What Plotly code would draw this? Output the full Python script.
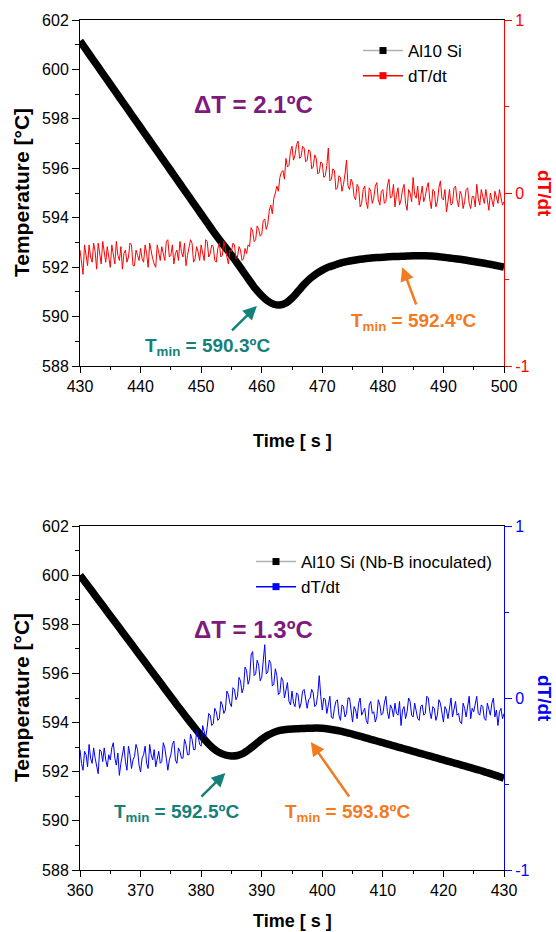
import plotly.graph_objects as go

# ---------------- data ----------------
# Top panel: Al10 Si
top_time_T = list(range(430, 501))
top_temp = [
    601.15, 600.80, 600.45, 600.10, 599.75, 599.40, 599.05, 598.70, 598.35, 598.00,
    597.65, 597.30, 596.95, 596.60, 596.25, 595.90, 595.55, 595.20, 594.85, 594.50,
    594.15, 593.80, 593.45, 593.12, 592.80, 592.48, 592.15, 591.80, 591.45, 591.12,
    590.85, 590.63, 590.50, 590.47, 590.55, 590.75, 591.02, 591.30, 591.54, 591.73,
    591.88, 592.00, 592.08, 592.16, 592.22, 592.27, 592.31, 592.34, 592.37, 592.39,
    592.40, 592.42, 592.43, 592.44, 592.45, 592.46, 592.46, 592.46, 592.45, 592.43,
    592.40, 592.37, 592.34, 592.31, 592.27, 592.23, 592.19, 592.15, 592.10, 592.05,
    592.00,
]
top_dtdt_start = 430.0
top_dtdt_step = 0.25
top_dtdt = [
    -0.33, -0.41, -0.47, -0.30, -0.35, -0.42, -0.30, -0.37, -0.40, -0.29,
    -0.34, -0.44, -0.29, -0.36, -0.41, -0.28, -0.36, -0.40, -0.31, -0.38,
    -0.43, -0.30, -0.35, -0.41, -0.28, -0.36, -0.39, -0.31, -0.44, -0.35,
    -0.33, -0.40, -0.37, -0.29, -0.30, -0.42, -0.42, -0.33, -0.36, -0.39,
    -0.32, -0.38, -0.40, -0.30, -0.35, -0.43, -0.29, -0.34, -0.38, -0.41,
    -0.43, -0.30, -0.34, -0.39, -0.31, -0.36, -0.39, -0.28, -0.27, -0.37,
    -0.36, -0.30, -0.41, -0.35, -0.33, -0.39, -0.28, -0.34, -0.37, -0.29,
    -0.42, -0.36, -0.32, -0.27, -0.29, -0.40, -0.38, -0.31, -0.34, -0.39,
    -0.30, -0.36, -0.39, -0.27, -0.28, -0.37, -0.35, -0.30, -0.31, -0.39,
    -0.40, -0.32, -0.29, -0.37, -0.36, -0.28, -0.32, -0.38, -0.41, -0.33,
    -0.34, -0.29, -0.30, -0.38, -0.37, -0.31, -0.33, -0.39, -0.38, -0.32,
    -0.35, -0.30, -0.31, -0.20, -0.22, -0.28, -0.27, -0.19, -0.21, -0.25,
    -0.24, -0.16, -0.15, -0.21, -0.18, -0.10, -0.07, -0.12, -0.03, 0.00,
    0.04, 0.01, 0.09, 0.12, 0.13, 0.08, 0.20, 0.15, 0.16, 0.24,
    0.27, 0.19, 0.22, 0.28, 0.30, 0.20, 0.21, 0.27, 0.26, 0.18,
    0.19, 0.25, 0.24, 0.14, 0.15, 0.22, 0.20, 0.11, 0.12, 0.18,
    0.17, 0.09, 0.10, 0.16, 0.26, 0.07, 0.08, 0.14, 0.13, 0.02,
    0.03, 0.10, 0.09, 0.01, 0.05, 0.11, 0.19, 0.04, 0.02, 0.08,
    0.06, -0.02, -0.04, 0.05, 0.03, -0.08, -0.06, 0.02, 0.04, -0.05,
    -0.09, 0.03, 0.01, -0.06, -0.03, 0.04, 0.06, -0.04, -0.07, 0.01,
    0.02, -0.06, -0.05, 0.04, 0.08, -0.03, -0.02, 0.05, -0.08, -0.01,
    0.03, -0.07, -0.04, 0.02, 0.05, -0.06, -0.10, 0.02, 0.00, -0.05,
    0.09, -0.01, -0.03, 0.04, -0.07, -0.02, 0.04, -0.05, -0.02, 0.03,
    0.06, -0.04, -0.09, 0.02, 0.01, -0.08, -0.05, 0.03, 0.07, -0.03,
    -0.04, 0.02, -0.11, -0.05, 0.02, -0.07, -0.06, 0.03, 0.04, -0.04,
    -0.08, 0.01, -0.01, -0.09, -0.05, 0.02, 0.03, -0.06, -0.09, -0.02,
    -0.02, -0.08, 0.05, -0.03, -0.07, 0.02, -0.03, -0.06, 0.02, -0.04,
    -0.10, 0.00, -0.04, -0.08, 0.01, -0.03, -0.06, 0.02, -0.02, -0.07,
    -0.05,
]

# Bottom panel: Al10 Si (Nb-B inoculated)
bot_time_T = list(range(360, 431))
bot_temp = [
    600.00, 599.67, 599.34, 599.01, 598.68, 598.35, 598.02, 597.69, 597.36, 597.03,
    596.70, 596.37, 596.04, 595.71, 595.38, 595.05, 594.72, 594.40, 594.08, 593.77,
    593.47, 593.19, 592.95, 592.78, 592.68, 592.64, 592.66, 592.75, 592.92, 593.12,
    593.32, 593.48, 593.60, 593.68, 593.72, 593.74, 593.75, 593.76, 593.77, 593.78,
    593.77, 593.74, 593.70, 593.65, 593.59, 593.53, 593.46, 593.39, 593.32, 593.25,
    593.18, 593.11, 593.04, 592.97, 592.90, 592.83, 592.76, 592.69, 592.62, 592.55,
    592.48, 592.41, 592.34, 592.27, 592.20, 592.13, 592.06, 591.98, 591.90, 591.82,
    591.74,
]
bot_dtdt_start = 360.0
bot_dtdt_step = 0.25
bot_dtdt = [
    -0.30, -0.38, -0.42, -0.31, -0.33, -0.40, -0.27, -0.35, -0.38, -0.29,
    -0.35, -0.41, -0.44, -0.30, -0.31, -0.37, -0.29, -0.36, -0.40, -0.33,
    -0.36, -0.29, -0.26, -0.35, -0.39, -0.32, -0.45, -0.38, -0.32, -0.28,
    -0.37, -0.42, -0.28, -0.33, -0.41, -0.36, -0.34, -0.27, -0.30, -0.39,
    -0.43, -0.35, -0.33, -0.28, -0.38, -0.41, -0.27, -0.33, -0.36, -0.30,
    -0.40, -0.34, -0.31, -0.38, -0.37, -0.26, -0.29, -0.35, -0.42, -0.36,
    -0.33, -0.27, -0.25, -0.36, -0.38, -0.29, -0.31, -0.35, -0.35, -0.24,
    -0.27, -0.33, -0.33, -0.21, -0.24, -0.30, -0.30, -0.19, -0.22, -0.27,
    -0.28, -0.16, -0.19, -0.23, -0.17, -0.09, -0.10, -0.16, -0.15, -0.06,
    -0.08, -0.13, -0.12, -0.02, -0.04, -0.09, -0.07, 0.04, 0.02, -0.03,
    -0.05, 0.06, 0.05, -0.01, 0.01, 0.12, 0.10, 0.03, 0.06, 0.18,
    0.16, 0.08, 0.11, 0.25, 0.27, 0.13, 0.14, 0.22, 0.19, 0.10,
    0.12, 0.24, 0.31, 0.14, 0.15, 0.22, 0.20, 0.07, 0.08, 0.17,
    0.13, 0.02, 0.03, 0.12, 0.10, 0.00, 0.05, 0.09, -0.02, -0.04,
    0.04, -0.03, -0.05, 0.03, 0.02, -0.06, -0.03, 0.04, 0.05, -0.02,
    -0.06, -0.01, 0.00, 0.05, 0.03, -0.05, -0.04, 0.02, 0.13, 0.01,
    -0.07, 0.00, -0.01, -0.09, -0.04, 0.01, -0.11, -0.12, -0.06, -0.02,
    -0.01, -0.10, -0.13, -0.04, -0.05, -0.11, -0.09, 0.00, 0.00, -0.08,
    -0.14, -0.05, -0.07, -0.12, -0.03, 0.00, -0.10, -0.08, -0.06, -0.13,
    -0.15, -0.04, -0.02, -0.09, -0.08, -0.14, -0.11, -0.01, -0.04, -0.10,
    -0.09, -0.03, 0.01, -0.08, -0.12, -0.04, -0.06, -0.11, -0.03, -0.09,
    -0.10, -0.02, -0.16, -0.07, -0.05, -0.12, -0.08, 0.00, -0.02, -0.10,
    -0.11, -0.03, -0.07, -0.12, -0.13, -0.05, -0.04, -0.10, -0.09, 0.01,
    0.00, -0.08, -0.12, -0.05, -0.06, -0.13, -0.10, -0.01, -0.03, -0.09,
    -0.14, -0.05, -0.07, -0.12, -0.05, 0.00, -0.11, -0.07, -0.02, -0.10,
    -0.09, -0.14, -0.15, -0.03, -0.06, -0.11, -0.04, 0.01, -0.12, -0.06,
    -0.08, -0.02, 0.01, -0.09, -0.10, -0.04, -0.05, -0.12, -0.13, -0.03,
    -0.07, -0.10, -0.03, 0.00, -0.11, -0.07, -0.16, -0.08, -0.06, -0.12,
    -0.09,
]

top_time_d = [top_dtdt_start + top_dtdt_step * i for i in range(len(top_dtdt))]
bot_time_d = [bot_dtdt_start + bot_dtdt_step * i for i in range(len(bot_dtdt))]

top_names = ["Al10 Si", "dT/dt"]
bot_names = ["Al10 Si (Nb-B inoculated)", "dT/dt"]

# ---------------- style ----------------
FONT = "Arial, 'Liberation Sans', sans-serif"
W, H = 556, 932
TEAL = "#14807a"
ORANGE = "#f47a1f"
PURPLE = "#7e1a7e"
RED = "#ff0000"
BLUE = "#0000ff"

def px_x(p):
    return p / W

def px_y(p):
    return 1 - p / H

xdom = [px_x(80), px_x(504)]
top_dom = [px_y(366), px_y(20)]
bot_dom = [px_y(870), px_y(526)]

fig = go.Figure()

# top panel traces
fig.add_trace(go.Scatter(x=top_time_d, y=top_dtdt, mode="lines",
                         line=dict(color=RED, width=1), xaxis="x", yaxis="y2",
                         showlegend=False, hoverinfo="skip"))
fig.add_trace(go.Scatter(x=top_time_T, y=top_temp, mode="lines",
                         line=dict(color="black", width=7.5, shape="spline", smoothing=0.6),
                         xaxis="x", yaxis="y", showlegend=False))
fig.add_trace(go.Scatter(x=[None], y=[None], mode="lines+markers", name=top_names[0],
                         line=dict(color="#b0b0b0", width=1.5),
                         marker=dict(color="black", symbol="square", size=7),
                         xaxis="x", yaxis="y", legend="legend"))
fig.add_trace(go.Scatter(x=[None], y=[None], mode="lines+markers", name=top_names[1],
                         line=dict(color=RED, width=1.5),
                         marker=dict(color=RED, symbol="square", size=7),
                         xaxis="x", yaxis="y2", legend="legend"))

# bottom panel traces
fig.add_trace(go.Scatter(x=bot_time_d, y=bot_dtdt, mode="lines",
                         line=dict(color=BLUE, width=1), xaxis="x2", yaxis="y4",
                         showlegend=False, hoverinfo="skip"))
fig.add_trace(go.Scatter(x=bot_time_T, y=bot_temp, mode="lines",
                         line=dict(color="black", width=7.5, shape="spline", smoothing=0.6),
                         xaxis="x2", yaxis="y3", showlegend=False))
fig.add_trace(go.Scatter(x=[None], y=[None], mode="lines+markers", name=bot_names[0],
                         line=dict(color="#b0b0b0", width=1.5),
                         marker=dict(color="black", symbol="square", size=7),
                         xaxis="x2", yaxis="y3", legend="legend2"))
fig.add_trace(go.Scatter(x=[None], y=[None], mode="lines+markers", name=bot_names[1],
                         line=dict(color=BLUE, width=1.5),
                         marker=dict(color=BLUE, symbol="square", size=7),
                         xaxis="x2", yaxis="y4", legend="legend2"))

def xaxis_cfg(rng, anchor, ticks_vals):
    return dict(domain=xdom, range=rng, anchor=anchor, showgrid=False, zeroline=False,
                automargin=False,
                showline=True, linecolor="black", linewidth=1, mirror=True,
                ticks="outside", ticklen=6, tickwidth=1, tickcolor="black",
                tickvals=ticks_vals,
                minor=dict(dtick=5, ticks="outside", ticklen=3, tickcolor="black", showgrid=False),
                tickfont=dict(family=FONT, size=16, color="black"))

def ytemp_cfg(dom, anchor):
    return dict(domain=dom, range=[588, 602], anchor=anchor, showgrid=False, zeroline=False,
                automargin=False,
                showline=True, linecolor="black", linewidth=1,
                ticks="outside", ticklen=7, tickwidth=1, tickcolor="black",
                tick0=588, dtick=2,
                minor=dict(dtick=1, ticks="outside", ticklen=4, tickcolor="black", showgrid=False),
                tickfont=dict(family=FONT, size=16, color="black"))

def yd_cfg(overlay, anchor, color):
    return dict(overlaying=overlay, anchor=anchor, side="right", range=[-1, 1],
                automargin=False,
                showgrid=False, zeroline=False, showline=True, linecolor=color, linewidth=1,
                ticks="outside", ticklen=7, tickwidth=1, tickcolor=color,
                tickvals=[-1, 0, 1], ticktext=["-1", "0", "1"],
                minor=dict(dtick=0.5, ticks="outside", ticklen=4, tickcolor=color, showgrid=False),
                tickfont=dict(family=FONT, size=16, color=color))

top_ticks = list(range(430, 501, 10))
bot_ticks = list(range(360, 431, 10))

fig.update_layout(
    width=W, height=H,
    autosize=False,
    margin=dict(l=0, r=0, t=0, b=0, pad=0, autoexpand=False),
    paper_bgcolor="white", plot_bgcolor="white",
    font=dict(family=FONT, color="black"),
    xaxis=xaxis_cfg([430, 500], "y", top_ticks),
    yaxis=ytemp_cfg(top_dom, "x"),
    yaxis2=yd_cfg("y", "x", RED),
    xaxis2=xaxis_cfg([360, 430], "y3", bot_ticks),
    yaxis3=ytemp_cfg(bot_dom, "x2"),
    yaxis4=yd_cfg("y3", "x2", BLUE),
    legend=dict(x=px_x(358), y=px_y(33), xanchor="left", yanchor="top",
                bgcolor="rgba(0,0,0,0)", font=dict(family=FONT, size=17, color="black"),
                tracegroupgap=0, itemwidth=40),
    legend2=dict(x=px_x(251), y=px_y(544), xanchor="left", yanchor="top",
                 bgcolor="rgba(0,0,0,0)", font=dict(family=FONT, size=17, color="black"),
                 tracegroupgap=0, itemwidth=40),
)

ann = []
# axis titles
for yc in (193, 698):
    ann.append(dict(text="<b>Temperature [°C]</b>", x=px_x(21), y=px_y(yc), xref="paper", yref="paper",
                    showarrow=False, textangle=-90, font=dict(family=FONT, size=21, color="black"),
                    xanchor="center", yanchor="middle"))
ann.append(dict(text="<b>dT/dt</b>", x=px_x(545), y=px_y(193), xref="paper", yref="paper",
                showarrow=False, textangle=90, font=dict(family=FONT, size=19, color=RED),
                xanchor="center", yanchor="middle"))
ann.append(dict(text="<b>dT/dt</b>", x=px_x(545), y=px_y(698), xref="paper", yref="paper",
                showarrow=False, textangle=90, font=dict(family=FONT, size=19, color=BLUE),
                xanchor="center", yanchor="middle"))
for yc in (441, 921):
    ann.append(dict(text="<b>Time [ s ]</b>", x=px_x(292), y=px_y(yc), xref="paper", yref="paper",
                    showarrow=False, font=dict(family=FONT, size=18, color="black"),
                    xanchor="center", yanchor="middle"))

# delta T labels
ann.append(dict(text="<b>ΔT = 2.1ºC</b>", x=458.7, y=598.6, xref="x", yref="y", showarrow=False,
                font=dict(family=FONT, size=24, color=PURPLE), xanchor="center", yanchor="middle"))
ann.append(dict(text="<b>ΔT = 1.3ºC</b>", x=388.7, y=597.77, xref="x2", yref="y3", showarrow=False,
                font=dict(family=FONT, size=24, color=PURPLE), xanchor="center", yanchor="middle"))

# Tmin labels
def tlabel(val, x, y, xr, yr, color):
    return dict(text="<b>T<sub>min</sub> = " + val + "ºC</b>", x=x, y=y, xref=xr, yref=yr,
                showarrow=False, font=dict(family=FONT, size=19, color=color),
                xanchor="center", yanchor="middle")

def arrow(hx, hy, tx, ty, xr, yr, color):
    return dict(text="", x=hx, y=hy, ax=tx, ay=ty, xref=xr, yref=yr, axref=xr, ayref=yr,
                showarrow=True, arrowhead=2, arrowsize=1.1, arrowwidth=2.5, arrowcolor=color)

ann.append(tlabel("590.3", 451.05, 588.77, "x", "y", TEAL))
ann.append(tlabel("592.4", 485.0, 589.78, "x", "y", ORANGE))
ann.append(arrow(459.2, 590.43, 454.85, 589.38, "x", "y", TEAL))
ann.append(arrow(483.2, 592.0, 485.6, 590.43, "x", "y", ORANGE))

ann.append(tlabel("592.5", 375.9, 590.32, "x2", "y3", TEAL))
ann.append(tlabel("593.8", 404.2, 590.32, "x2", "y3", ORANGE))
ann.append(arrow(384.0, 591.95, 379.8, 590.93, "x2", "y3", TEAL))
ann.append(arrow(398.1, 593.21, 404.6, 590.93, "x2", "y3", ORANGE))

fig.update_layout(annotations=ann)

fig.write_html("out.html",
               config={"displayModeBar": False, "staticPlot": True},
               post_script="document.body.style.margin='0px';document.body.style.overflow='hidden';")
